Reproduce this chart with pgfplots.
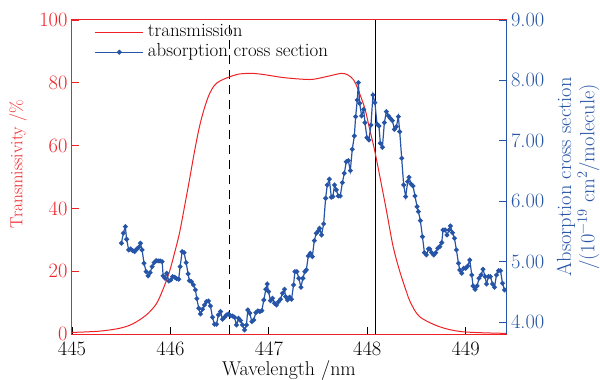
\documentclass[border=0pt]{standalone}
\usepackage{pgfplots}
\pgfplotsset{compat=1.18}
\definecolor{cred}{RGB}{238,34,38}
\definecolor{cblue}{RGB}{38,84,166}
\pgfplotstableread{
x y
445.000 0.5
445.278 0.9
445.481 1.8
445.616 3.2
445.753 6.0
445.855 9.5
445.922 14.0
445.990 19.8
446.041 25.7
446.092 32.1
446.143 40.5
446.193 49.0
446.244 58.0
446.295 66.0
446.346 72.0
446.397 76.5
446.448 79.2
446.499 80.5
446.593 81.8
446.700 82.8
446.837 83.0
446.974 82.5
447.139 81.7
447.312 81.2
447.448 81.1
447.617 82.2
447.737 83.0
447.804 82.5
447.862 80.9
447.905 78.0
447.974 72.0
448.024 65.3
448.075 58.5
448.126 50.5
448.194 39.5
448.262 28.0
448.330 20.0
448.398 13.5
448.440 10.0
448.533 5.5
448.736 2.3
448.974 0.7
449.410 0.2
}\transdata
\pgfplotstableread{
x y
445.502 5.303
445.522 5.469
445.542 5.578
445.555 5.369
445.576 5.192
445.596 5.209
445.616 5.180
445.637 5.164
445.657 5.204
445.678 5.237
445.695 5.303
445.712 5.192
445.732 4.972
445.753 4.833
445.773 4.762
445.794 4.816
445.814 4.916
445.834 4.982
445.855 5.015
445.875 5.010
445.895 5.010
445.916 4.998
445.926 4.762
445.946 4.723
445.962 4.806
445.983 4.679
446.003 4.695
446.023 4.750
446.044 4.740
446.064 4.717
446.084 4.707
446.099 4.916
446.119 5.164
446.139 5.147
446.160 4.982
446.180 4.795
446.193 4.684
446.214 4.667
446.234 4.613
446.254 4.530
446.268 4.386
446.288 4.227
446.305 4.132
446.326 4.210
446.346 4.281
446.366 4.336
446.387 4.348
446.407 4.265
446.427 4.078
446.448 3.962
446.468 3.962
446.488 4.116
446.509 4.171
446.529 4.045
446.549 4.078
446.570 4.116
446.590 4.132
446.610 4.104
446.631 4.099
446.651 4.078
446.671 3.950
446.692 4.061
446.712 4.022
446.732 3.950
446.753 3.868
446.773 3.950
446.786 4.199
446.807 4.144
446.827 4.005
446.847 4.033
446.868 4.154
446.888 4.182
446.908 4.171
446.929 4.187
446.949 4.364
446.970 4.541
446.984 4.629
446.997 4.502
447.017 4.353
447.038 4.392
447.058 4.310
447.078 4.281
447.099 4.336
447.119 4.376
447.139 4.475
447.160 4.541
447.170 4.419
447.190 4.364
447.211 4.409
447.231 4.376
447.251 4.613
447.265 4.833
447.285 4.833
447.305 4.723
447.326 4.574
447.346 4.723
447.366 4.833
447.381 4.861
447.401 5.093
447.421 5.137
447.442 5.081
447.462 5.346
447.482 5.469
447.503 5.507
447.516 5.551
447.536 5.440
447.557 5.623
447.577 6.048
447.594 6.268
447.615 6.363
447.635 6.065
447.651 6.075
447.668 6.268
447.686 6.185
447.706 6.086
447.726 6.086
447.747 6.306
447.767 6.462
447.787 6.654
447.808 6.670
447.828 6.505
447.848 6.859
447.869 7.079
447.882 7.399
447.899 7.675
447.910 7.962
447.923 7.621
447.943 7.411
447.963 7.521
447.977 7.300
447.997 7.051
448.017 7.013
448.038 7.262
448.058 7.758
448.078 7.631
448.099 7.278
448.119 7.245
448.133 6.959
448.154 6.892
448.174 7.300
448.194 7.482
448.215 7.411
448.235 7.372
448.255 7.333
448.276 7.190
448.296 7.233
448.316 7.399
448.330 7.151
448.350 6.710
448.370 6.268
448.391 6.075
448.411 6.323
448.424 6.396
448.445 6.285
448.465 6.252
448.485 6.086
448.506 5.909
448.520 5.826
448.540 5.677
448.561 5.412
448.581 5.147
448.601 5.109
448.622 5.209
448.635 5.209
448.655 5.147
448.676 5.109
448.696 5.147
448.716 5.220
448.737 5.247
448.757 5.313
448.770 5.523
448.791 5.523
448.811 5.440
448.831 5.523
448.845 5.589
448.866 5.478
448.886 5.386
448.906 5.192
448.927 4.972
448.940 4.861
448.960 4.806
448.981 4.889
449.001 4.889
449.021 4.927
449.042 5.026
449.062 4.778
449.075 4.596
449.096 4.541
449.116 4.596
449.136 4.723
449.157 4.778
449.177 4.872
449.197 4.750
449.212 4.629
449.232 4.750
449.252 4.750
449.273 4.629
449.293 4.574
449.313 4.778
449.334 4.849
449.354 4.849
449.374 4.641
449.395 4.530
}\absdata
\begin{document}
\begin{tikzpicture}[font=\fontsize{19.5}{23}\selectfont]
\begin{axis}[
  scale only axis, width=434bp, height=314bp,
  xmin=445, xmax=449.41, ymin=0, ymax=100,
  xtick={445,446,447,448,449}, ytick={0,20,40,60,80,100},
  xtick pos=left, ytick pos=left,
  tick align=inside, major tick length=7bp,
  /pgf/number format/assume math mode=true,
  ticklabel style={font=\fontsize{20.5}{24}\selectfont},
  x tick label style={yshift=-4bp},
  yticklabel style={text=cred, xshift=-1bp},
  y tick style={cred, line width=0.8bp},
  x tick style={black, line width=0.8bp},
  y axis line style={cred, line width=1bp},
  x axis line style={black, line width=1bp},
  xlabel={Wavelength /nm},
  xlabel style={at={(axis description cs:0.5,0)}, anchor=base, yshift=-41bp, font=\fontsize{20}{23}\selectfont},
  ylabel={Transmissivity /\%},
  ylabel style={at={(axis description cs:-0.1244,0.541)}, anchor=center, text=cred, font=\fontsize{17.5}{20}\selectfont},
]
\addplot[black, line width=1.2bp, dash pattern=on 9bp off 6bp] coordinates {(446.6,0) (446.6,100)};
\addplot[black, line width=1.1bp] coordinates {(448.08,0) (448.08,100)};
\addplot[cred, line width=1bp, smooth, tension=0.5] table[x=x,y=y] {\transdata};
\end{axis}
\begin{axis}[
  scale only axis, width=434bp, height=314bp,
  xmin=445, xmax=449.41, ymin=3.8, ymax=9,
  axis x line=none, axis y line*=right,
  ytick={4,5,6,7,8,9},
  tick align=inside, major tick length=7bp,
  /pgf/number format/assume math mode=true,
  yticklabel style={text=cblue, font=\fontsize{20.5}{24}\selectfont, xshift=1.5bp, /pgf/number format/.cd, fixed, fixed zerofill, precision=2},
  y tick style={cblue, line width=0.8bp},
  y axis line style={cblue, line width=1bp, -},
  ylabel={Absorption cross section\\/(10\textsuperscript{\char"2212 19} cm\textsuperscript{2}/molecule)},
  ylabel style={at={(axis description cs:1.166,0.5)}, anchor=center, text=cblue, align=center, font=\fontsize{20.5}{23.5}\selectfont},
  legend cell align=left,
  legend style={draw=none, fill=none, at={(axis description cs:0.045,1.0)}, anchor=north west,
    font=\fontsize{19}{22}\selectfont, nodes={inner ysep=1.5bp, inner xsep=4bp, text height=13bp, text depth=4bp}},
  legend image code/.code={\draw[mark repeat=2,mark phase=2,#1] plot coordinates {(0bp,0bp) (24bp,0bp) (48bp,0bp)};},
]
\addlegendimage{cred, line width=1bp}
\addlegendentry{transmission}
\addplot[cblue, line width=1.2bp, mark=*, mark size=1.8bp, mark options={fill=cblue, draw=cblue}] table[x=x,y=y] {\absdata};
\addlegendentry{absorption cross section}
\end{axis}
\pgfresetboundingbox
\path[use as bounding box] (-72bp,-46bp) rectangle (528bp,334bp);
\end{tikzpicture}
\end{document}
